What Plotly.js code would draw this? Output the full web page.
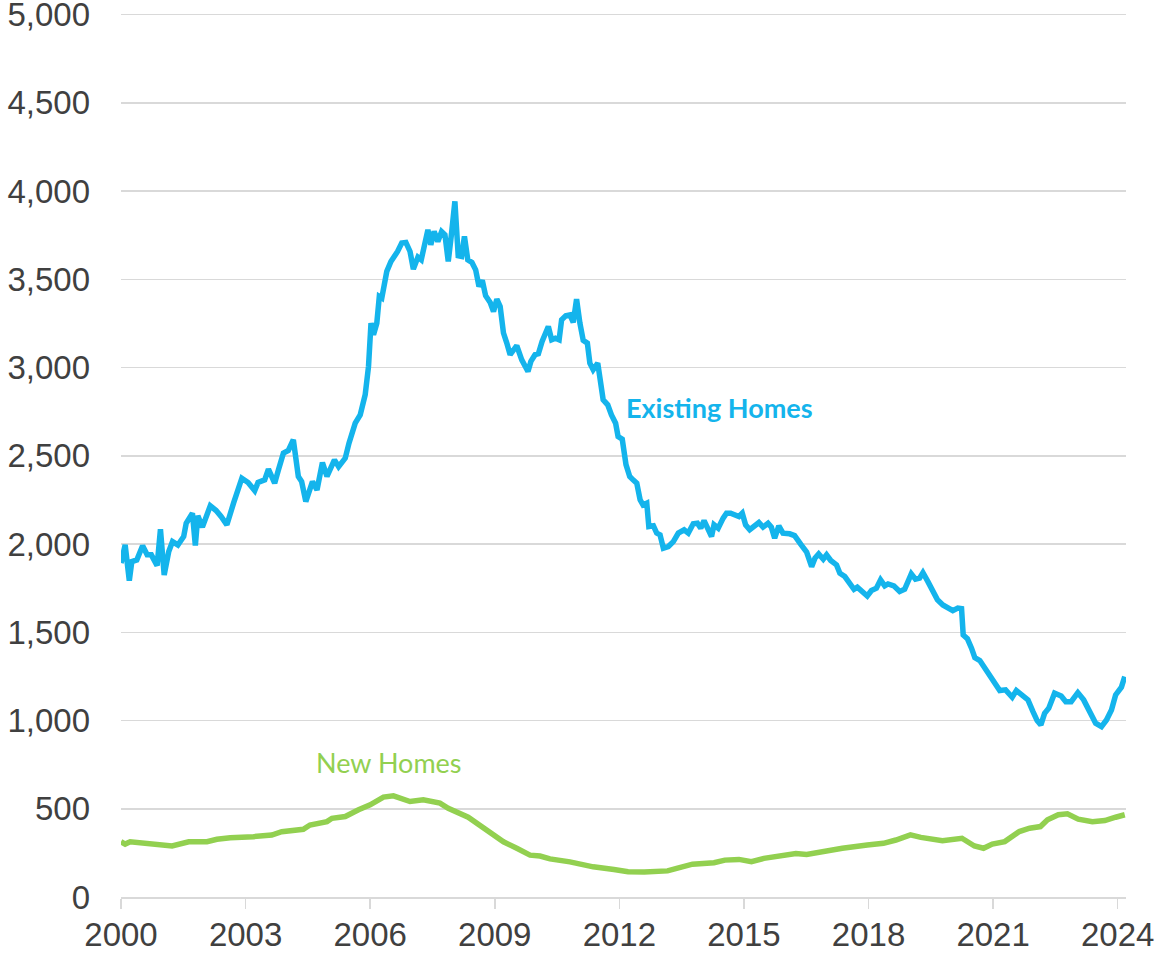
<!DOCTYPE html>
<html>
<head>
<meta charset="utf-8">
<script src="https://cdn.plot.ly/plotly-3.0.1.min.js"></script>
<style>
  html, body { margin: 0; padding: 0; background: #ffffff; }
  #chart { width: 1162px; height: 954px; }
</style>
</head>
<body>
<div id="chart"></div>
<script>
// Existing homes inventory (thousands), time in decimal years
const existYears = [
  2000.00,2000.10,2000.20,2000.26,2000.38,2000.52,2000.63,2000.73,2000.87,2000.95,
  2001.04,2001.15,2001.24,2001.37,2001.51,2001.57,2001.72,2001.79,2001.85,2001.96,
  2002.15,2002.29,2002.41,2002.55,2002.71,2002.91,2003.06,2003.22,2003.30,2003.46,
  2003.55,2003.70,2003.79,2003.91,2004.03,2004.15,2004.27,2004.35,2004.45,2004.61,
  2004.72,2004.85,2004.96,2005.14,2005.24,2005.40,2005.49,2005.64,2005.76,2005.88,
  2005.96,2006.02,2006.08,2006.16,2006.22,2006.28,2006.40,2006.50,2006.66,2006.76,
  2006.86,2006.96,2007.04,2007.15,2007.23,2007.31,2007.39,2007.46,2007.54,2007.63,
  2007.72,2007.80,2007.88,2007.96,2008.04,2008.12,2008.20,2008.27,2008.35,2008.45,
  2008.54,2008.62,2008.70,2008.78,2008.89,2008.97,2009.05,2009.13,2009.21,2009.29,
  2009.37,2009.53,2009.65,2009.80,2009.87,2009.97,2010.05,2010.14,2010.29,2010.37,
  2010.46,2010.55,2010.61,2010.71,2010.81,2010.89,2010.97,2011.05,2011.13,2011.23,
  2011.29,2011.37,2011.48,2011.61,2011.72,2011.81,2011.91,2011.97,2012.07,2012.16,
  2012.25,2012.33,2012.42,2012.50,2012.57,2012.66,2012.71,2012.82,2012.90,2012.98,
  2013.06,2013.18,2013.30,2013.42,2013.56,2013.66,2013.78,2013.88,2013.96,2014.04,
  2014.14,2014.22,2014.28,2014.38,2014.50,2014.58,2014.68,2014.78,2014.88,2014.96,
  2015.04,2015.14,2015.26,2015.36,2015.46,2015.58,2015.66,2015.74,2015.84,2015.94,
  2016.10,2016.22,2016.37,2016.51,2016.63,2016.71,2016.80,2016.91,2016.99,2017.09,
  2017.23,2017.31,2017.43,2017.57,2017.65,2017.73,2017.83,2017.97,2018.07,2018.19,
  2018.29,2018.39,2018.47,2018.61,2018.75,2018.87,2019.03,2019.13,2019.23,2019.31,
  2019.43,2019.55,2019.66,2019.79,2019.91,2020.03,2020.15,2020.24,2020.28,2020.38,
  2020.48,2020.56,2020.68,2020.84,2021.00,2021.16,2021.30,2021.46,2021.56,2021.68,
  2021.84,2021.96,2022.06,2022.15,2022.24,2022.34,2022.48,2022.64,2022.75,2022.88,
  2023.04,2023.18,2023.28,2023.39,2023.47,2023.61,2023.73,2023.85,2023.95,2024.09,
  2024.17
];
const existValues = [
  1892,1995,1793,1901,1910,1990,1939,1939,1878,2084,
  1825,1958,2014,1995,2043,2118,2175,1992,2160,2096,
  2217,2190,2156,2109,2232,2373,2349,2303,2349,2364,
  2425,2345,2420,2515,2530,2591,2383,2354,2241,2354,
  2307,2462,2383,2477,2439,2487,2572,2685,2732,2846,
  3006,3252,3186,3252,3403,3394,3545,3601,3658,3706,
  3709,3658,3558,3626,3611,3696,3781,3696,3771,3715,
  3771,3753,3601,3762,3942,3634,3630,3743,3611,3596,
  3554,3460,3494,3407,3369,3318,3388,3346,3196,3139,
  3073,3124,3044,2978,3035,3073,3078,3148,3233,3158,
  3167,3158,3271,3294,3299,3256,3388,3252,3154,3139,
  3025,2988,3025,2818,2789,2732,2685,2609,2594,2450,
  2383,2364,2345,2251,2222,2232,2099,2103,2062,2052,
  1977,1986,2014,2062,2081,2062,2115,2118,2090,2133,
  2081,2043,2109,2090,2147,2175,2175,2166,2156,2175,
  2109,2081,2103,2122,2096,2118,2096,2033,2103,2062,
  2058,2048,1998,1955,1872,1920,1944,1914,1939,1907,
  1882,1835,1816,1763,1744,1756,1731,1706,1737,1750,
  1797,1763,1774,1763,1731,1744,1831,1801,1807,1838,
  1787,1740,1684,1655,1637,1623,1637,1634,1485,1464,
  1410,1356,1340,1287,1230,1170,1174,1132,1170,1145,
  1117,1051,1000,975,1041,1070,1155,1139,1107,1107,
  1158,1117,1070,1032,985,965,1003,1060,1145,1189,
  1249
];

// New homes for sale (thousands)
const newYears = [
  2000.00,2000.10,2000.22,2000.54,2000.87,2001.23,2001.63,2002.07,2002.31,2002.63,
  2003.19,2003.63,2003.87,2004.07,2004.39,2004.55,2004.96,2005.08,2005.40,2005.72,
  2006.00,2006.32,2006.56,2006.96,2007.28,2007.68,2007.88,2008.36,2008.57,2008.89,
  2009.21,2009.53,2009.85,2010.09,2010.33,2010.81,2011.37,2011.87,2012.21,2012.60,
  2012.95,2013.16,2013.38,2013.76,2014.28,2014.54,2014.88,2015.18,2015.48,2015.91,
  2016.25,2016.51,2016.86,2017.37,2017.97,2018.36,2018.66,2019.01,2019.26,2019.78,
  2020.25,2020.55,2020.77,2020.98,2021.28,2021.63,2021.88,2022.14,2022.31,2022.57,
  2022.79,2023.05,2023.39,2023.69,2023.95,2024.17
];
const newValues = [
  313,300,313,304,300,289,313,313,327,336,
  342,351,370,376,384,408,427,446,456,494,
  522,566,573,541,551,532,503,452,418,370,
  313,276,237,232,216,199,171,156,143,141,
  148,148,162,186,194,209,213,200,219,232,
  247,241,257,276,295,304,323,352,338,319,
  333,289,276,300,314,371,390,399,437,466,
  472,441,426,433,452,466
];

const xTickVals = [2000, 2003, 2006, 2009, 2012, 2015, 2018, 2021, 2024];
const xTickText = ['2000', '2003', '2006', '2009', '2012', '2015', '2018', '2021', '2024'];
const yTickVals = [0, 500, 1000, 1500, 2000, 2500, 3000, 3500, 4000, 4500, 5000];
const yTickText = ['0', '500', '1,000', '1,500', '2,000', '2,500', '3,000', '3,500', '4,000', '4,500', '5,000'];
const seriesNames = ['Existing Homes', 'New Homes'];

const blue = '#14B4EC';
const green = '#92D050';

const traces = [
  {
    x: existYears, y: existValues, type: 'scatter', mode: 'lines',
    name: seriesNames[0],
    line: { color: blue, width: 5.5, shape: 'linear' },
    hoverinfo: 'x+y', cliponaxis: false
  },
  {
    x: newYears, y: newValues, type: 'scatter', mode: 'lines',
    name: seriesNames[1],
    line: { color: green, width: 5.5, shape: 'linear' },
    hoverinfo: 'x+y', cliponaxis: false
  }
];

const tickFont = { family: 'Liberation Sans, Arial, sans-serif', size: 33, color: '#404040' };

const layout = {
  width: 1162, height: 954,
  margin: { l: 121, r: 36, t: 12, b: 57 },
  paper_bgcolor: '#ffffff', plot_bgcolor: '#ffffff',
  showlegend: false,
  xaxis: {
    range: [2000, 2024.2],
    tickmode: 'array', tickvals: xTickVals, ticktext: xTickText,
    showgrid: false, zeroline: false,
    showline: true, linecolor: '#d9d9d9', linewidth: 1.5,
    ticks: 'outside', ticklen: 10, tickwidth: 1.5, tickcolor: '#d9d9d9',
    tickfont: tickFont, ticklabelstandoff: -2
  },
  yaxis: {
    range: [0, 5015],
    tickmode: 'array', tickvals: yTickVals, ticktext: yTickText,
    showgrid: true, gridcolor: '#d9d9d9', gridwidth: 1.5,
    zeroline: false, showline: false,
    ticks: '', ticklabelstandoff: 30, ticklabeloverflow: 'allow',
    tickfont: tickFont
  },
  annotations: [
    {
      x: 2014.42, y: 2772, xref: 'x', yref: 'y',
      text: '<b>' + seriesNames[0] + '</b>', showarrow: false,
      font: { family: 'Lato, Open Sans, sans-serif', size: 27, color: blue }
    },
    {
      x: 2006.45, y: 760, xref: 'x', yref: 'y',
      text: seriesNames[1], showarrow: false,
      font: { family: 'Lato, Open Sans, sans-serif', size: 27, color: green }
    }
  ]
};

Plotly.newPlot('chart', traces, layout, { displayModeBar: false, staticPlot: true });
</script>
</body>
</html>
